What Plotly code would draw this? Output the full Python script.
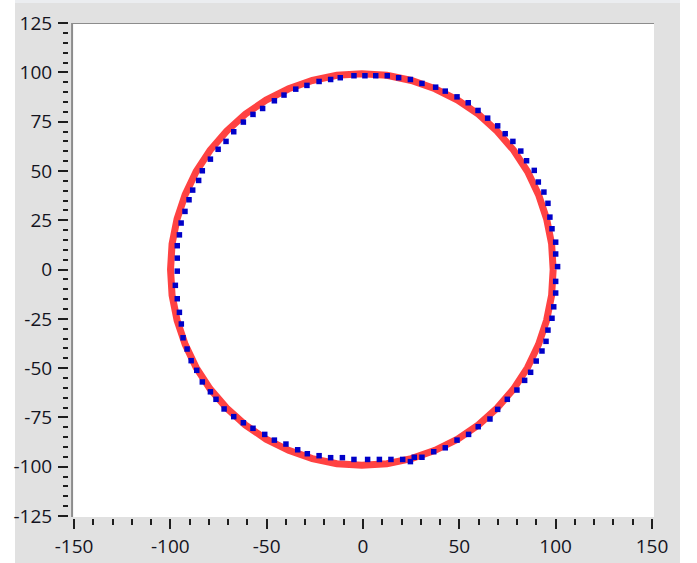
import plotly.graph_objects as go

# ---- data ----
red_x = [98.7, 97.9, 95.3, 91.1, 85.4, 78.2, 69.6, 59.9, 49.1, 37.4, 25.1, 12.4, -0.6,
         -13.6, -26.3, -38.6, -50.3, -61.1, -70.8, -79.4, -86.6, -92.3, -96.5, -99.1, -99.9,
         -99.1, -96.5, -92.3, -86.6, -79.4, -70.8, -61.1, -50.3, -38.6, -26.3, -13.6, -0.6,
         12.4, 25.1, 37.4, 49.1, 59.9, 69.6, 78.2, 85.4, 91.1, 95.3, 97.9, 98.7]
red_y = [0.0, 13.0, 25.7, 38.0, 49.7, 60.5, 70.2, 78.8, 86.0, 91.7, 95.9, 98.5, 99.3,
         98.5, 95.9, 91.7, 86.0, 78.8, 70.2, 60.5, 49.7, 38.0, 25.7, 13.0, 0.0,
         -13.0, -25.7, -38.0, -49.7, -60.5, -70.2, -78.8, -86.0, -91.7, -95.9, -98.5, -99.3,
         -98.5, -95.9, -91.7, -86.0, -78.8, -70.2, -60.5, -49.7, -38.0, -25.7, -13.0, 0.0]

blue_x = [101.0, 100.0, 100.0, 98.1, 97.0, 96.0, 93.9, 91.0, 88.9, 84.9, 81.9, 77.8, 73.8,
          69.9, 64.7, 59.7, 54.6, 48.8, 42.7, 37.7, 30.6, 24.6, 18.5, 12.6, 6.6, 1.0,
          -4.7, -11.8, -16.8, -22.8, -29.1, -34.9, -41.0, -46.0, -52.1, -57.1, -62.1, -67.1,
          -71.1, -75.2, -79.2, -83.4, -85.3, -88.4, -90.3, -92.4, -94.4, -95.3, -96.4, -96.4,
          -96.4, -97.4, -96.4, -95.3, -94.3, -93.4, -91.3, -89.2, -86.3, -83.4, -79.2, -76.3,
          -72.1, -67.1, -62.1, -57.1, -51.0, -46.0, -40.0, -33.9, -28.9, -22.8, -16.8, -10.7,
          -4.7, 2.4, 8.5, 14.5, 20.6, 24.6, 26.6, 30.6, 36.7, 42.7, 48.8, 54.8, 59.8, 65.9,
          69.9, 74.9, 79.9, 83.9, 87.0, 89.9, 92.9, 95.0, 96.0, 98.1, 99.0, 100.0, 100.0]
blue_y = [1.5, 7.9, 13.9, 20.7, 26.6, 33.6, 39.3, 44.4, 50.3, 55.2, 60.1, 65.0, 68.9,
          72.9, 76.8, 80.7, 84.6, 87.6, 90.5, 92.5, 94.4, 96.4, 97.3, 98.3, 98.3, 98.3,
          98.3, 97.3, 96.4, 95.4, 93.4, 91.5, 88.5, 85.6, 81.7, 78.7, 74.8, 69.9,
          65.0, 61.0, 56.0, 50.1, 45.2, 40.3, 35.4, 29.5, 23.6, 17.6, 12.1, 5.8,
          -0.8, -8.0, -14.8, -21.7, -27.6, -34.6, -40.3, -46.2, -51.1, -57.0, -62.0, -65.8,
          -70.7, -74.6, -77.7, -80.5, -83.6, -86.5, -88.5, -91.4, -93.4, -94.4, -95.4, -95.4,
          -96.3, -96.3, -96.3, -96.3, -96.3, -97.4, -95.2, -95.2, -92.4, -90.4, -86.5, -83.6, -79.7, -75.8,
          -70.9, -65.8, -61.1, -56.2, -52.1, -46.4, -41.3, -36.4, -30.7, -24.7, -18.9, -11.9, -6.0]

x_tickvals = [-150, -100, -50, 0, 50, 100, 150]
x_ticktext = ["-150", "-100", "-50", "0", "50", "100", "150"]
y_tickvals = [-125, -100, -75, -50, -25, 0, 25, 50, 75, 100, 125]
y_ticktext = ["-125", "-100", "-75", "-50", "-25", "0", "25", "50", "75", "100", "125"]

# ---- styling ----
GRAY = "#e1e1e1"
TXT = "#14141e"
FONT = dict(family="Open Sans", size=19, color=TXT)

fig = go.Figure()
fig.add_trace(go.Scatter(x=red_x, y=red_y, mode="lines",
                         line=dict(color="#FF4242", width=7), hoverinfo="skip"))
fig.add_trace(go.Scatter(x=blue_x, y=blue_y, mode="markers",
                         marker=dict(symbol="square", size=5.5, color="#0000C8",
                                     line=dict(width=0)), hoverinfo="skip"))

X_RANGE = [-152.6, 151.04]
Y_RANGE = [-126.0, 125.05]

shapes = [
    # gray window background
    dict(type="rect", xref="paper", yref="paper", x0=-0.0923, x1=1.0444, y0=-0.2, y1=1.0404,
         fillcolor=GRAY, line=dict(width=0), layer="below"),
    dict(type="rect", xref="paper", yref="paper", x0=-0.0923, x1=1.0444, y0=1.0404, y1=1.06,
         fillcolor="#ebedf0", line=dict(width=0), layer="below"),
    # white plotting panel
    dict(type="rect", xref="x", yref="y", x0=-151.04, x1=151.04, y0=-125.5, y1=125.05,
         fillcolor="white", line=dict(width=0), layer="below"),
    # sunken border (top & left)
    dict(type="line", xref="x", yref="y", x0=-151.04, x1=151.04, y0=125.0, y1=125.0,
         line=dict(color="#8c8c8c", width=2), layer="below"),
    dict(type="line", xref="x", yref="y", x0=-151.0, x1=-151.0, y0=-125.5, y1=125.05,
         line=dict(color="#8c8c8c", width=2), layer="below"),
]

fig.update_layout(
    width=697, height=563, autosize=False,
    margin=dict(l=69, r=43, t=23, b=45, autoexpand=False),
    paper_bgcolor="white", plot_bgcolor=GRAY,
    showlegend=False, shapes=shapes,
    xaxis=dict(range=X_RANGE, tickmode="array", tickvals=x_tickvals, ticktext=x_ticktext,
               showgrid=False, zeroline=False, showline=False, automargin=False,
               ticks="outside", ticklen=10, tickwidth=2, tickcolor="#1e1e1e",
               ticklabelstandoff=1,
               minor=dict(dtick=10, tick0=0, ticks="outside", ticklen=6, tickwidth=2,
                          tickcolor="#1e1e1e", showgrid=False),
               tickfont=FONT, fixedrange=True),
    yaxis=dict(range=Y_RANGE, tickmode="array", tickvals=y_tickvals, ticktext=y_ticktext,
               showgrid=False, zeroline=False, showline=False, automargin=False,
               ticks="outside", ticklen=10, tickwidth=2, tickcolor="#1e1e1e",
               ticklabelstandoff=2,
               minor=dict(dtick=5, tick0=0, ticks="outside", ticklen=5, tickwidth=2,
                          tickcolor="#1e1e1e", showgrid=False),
               tickfont=FONT, fixedrange=True),
)

fig.write_html("out.html", config=dict(displayModeBar=False),
               post_script="document.body.style.margin='0';document.body.style.overflow='hidden';")
